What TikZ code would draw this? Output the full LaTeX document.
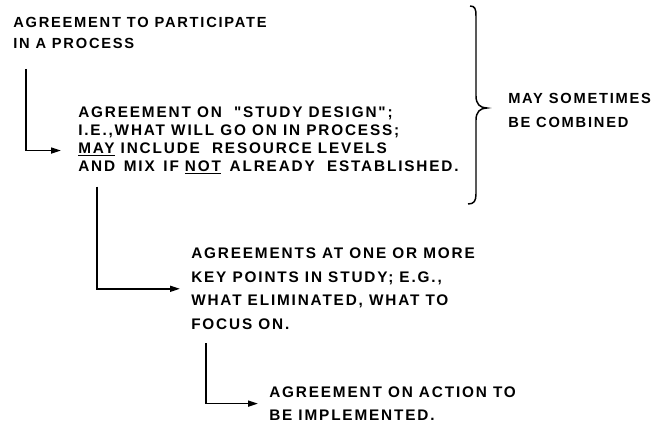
\documentclass[tikz,border=0pt]{standalone}
\usepackage{fontspec}
\setmainfont{Liberation Sans}[LetterSpace=12, Ligatures=TeXOff]
\usetikzlibrary{calc,arrows.meta,positioning}
\tikzset{%
    stage/.style={%
        anchor=north west, inner sep=0pt, align=left,
        font=\bfseries\fontsize{11.5}{#1}\selectfont
    },
    small stage/.style={%
        stage, font=\bfseries\fontsize{11}{#1}\selectfont
    },
    flow/.style={%
        line width=1.3pt, -{Triangle[length=7.5pt,width=4.5pt]}
    },
    bracket/.style={%
        line width=1.1pt
    },
}

\begin{document}
\begin{tikzpicture}[x=0.75pt,y=-0.75pt]

    \useasboundingbox (0,0) rectangle (657,422);

    \node[small stage=15.75pt] (participate) at (13,17) {AGREEMENT TO PARTICIPATE\\IN A PROCESS};
    \node[stage=13.5pt] (design) at (78,106.5) {AGREEMENT ON \ "STUDY DESIGN";\\I.E.,WHAT WILL GO ON IN PROCESS;\\\underline{MAY} INCLUDE \ RESOURCE LEVELS\\AND \,MIX \,IF \underline{NOT} \,ALREADY \ ESTABLISHED.};
    \node[stage=17.8pt] (keypoints) at (191,247.5) {AGREEMENTS AT ONE OR MORE\\KEY POINTS IN STUDY; E.G.,\\WHAT ELIMINATED, WHAT TO\\FOCUS ON.};
    \node[stage=17.25pt] (action) at (269,386.5) {AGREEMENT ON ACTION TO\\BE IMPLEMENTED.};

    \node[small stage=18pt] (combined) at (508,93) {MAY SOMETIMES\\BE COMBINED};

    \draw[flow] ($(participate.south west)+(13,20)$) |- ($(design.west)+(-17,10)$);
    \draw[flow] ($(design.south west)+(19,12)$) |- ($(keypoints.west)+(-11,0)$);
    \draw[flow] ($(keypoints.south west)+(15,13)$) |- ($(action.west)+(-11,0)$);

    % brace over the first two stages
    \draw[bracket] (470,6) .. controls (475,6) and (476,9) .. (476,16) -- (476,96)
        .. controls (476,104) and (480,108) .. (487,108)
        .. controls (480,108) and (476,112) .. (476,120) -- (476,194)
        .. controls (476,201) and (474,204) .. (468,204);

\end{tikzpicture}
\end{document}
